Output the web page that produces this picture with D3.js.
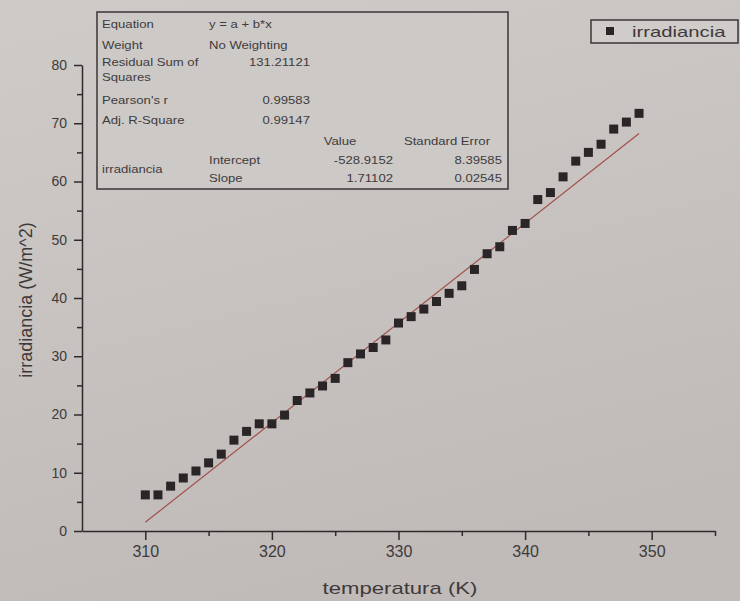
<!DOCTYPE html>
<html lang="en">
<head>
<meta charset="UTF-8">
<title>irradiancia vs temperatura</title>
<script src="https://d3js.org/d3.v7.min.js"></script>
<style>
    body { margin: 0; background: #c8c4c2; }
    svg { display: block; font-family: "Liberation Sans", Arial, sans-serif; }
    .axis path, .axis line { stroke: #2f2b2b; stroke-width: 1.5; }
    .axis text { fill: #3e3a3a; }
    .tbl text { fill: #403c3c; font-size: 10.5px; }
</style>
</head>
<body>
<svg width="740" height="601"></svg>

<script>
    // data
    const temperatura = [310, 311, 312, 313, 314, 315, 316, 317, 318, 319,
                         320, 321, 322, 323, 324, 325, 326, 327, 328, 329,
                         330, 331, 332, 333, 334, 335, 336, 337, 338, 339,
                         340, 341, 342, 343, 344, 345, 346, 347, 348, 349];
    const irradiancia = [6.2, 6.2, 7.7, 9.1, 10.3, 11.7, 13.2, 15.6, 17.1, 18.4,
                         18.4, 19.9, 22.4, 23.7, 24.9, 26.2, 28.9, 30.4, 31.5, 32.8,
                         35.7, 36.8, 38.1, 39.4, 40.8, 42.1, 44.9, 47.6, 48.8, 51.6,
                         52.8, 56.9, 58.1, 60.8, 63.5, 65.0, 66.4, 69.0, 70.2, 71.7];

    const xTicks = [310, 320, 330, 340, 350];
    const xMinor = [315, 325, 335, 345, 355];
    const yTicks = [0, 10, 20, 30, 40, 50, 60, 70, 80];
    const yMinor = [5, 15, 25, 35, 45, 55, 65, 75];

    // fit results table
    const statLabels = ["Equation", "Weight", "Residual Sum of|Squares", "Pearson's r", "Adj. R-Square"];
    const statValues = ["y = a + b*x", "No Weighting", "131.21121", "0.99583", "0.99147"];
    const paramNames = ["Intercept", "Slope"];
    const paramValues = ["-528.9152", "1.71102"];
    const paramErrors = ["8.39585", "0.02545"];
    const fitIntercept = -528.9152;
    const fitSlope = 1.71102;

    const svg = d3.select("svg");

    const defs = svg.append("defs");
    const grad = defs.append("linearGradient").attr("id", "paper")
        .attr("x1", 0).attr("y1", 0).attr("x2", 0.3).attr("y2", 1);
    grad.append("stop").attr("offset", "0%").attr("stop-color", "#cfcbc9");
    grad.append("stop").attr("offset", "100%").attr("stop-color", "#c0bbb9");
    svg.append("rect").attr("width", 740).attr("height", 601).attr("fill", "url(#paper)");

    const x = d3.scaleLinear().domain([305, 355]).range([82, 715]);
    const y = d3.scaleLinear().domain([0, 80]).range([531, 65]);

    function stretch(sel, k) {
        sel.each(function () {
            const w = this.getComputedTextLength();
            d3.select(this).attr("textLength", w * k).attr("lengthAdjust", "spacingAndGlyphs");
        });
    }

    // axes
    const gx = svg.append("g").attr("class", "axis")
        .attr("transform", "translate(0," + y(0) + ")")
        .call(d3.axisBottom(x).tickValues(xTicks).tickSize(9).tickSizeOuter(0).tickPadding(6).tickFormat(d3.format("d")));
    gx.selectAll("text").style("font-size", "16px");
    svg.append("g").attr("class", "axis")
        .attr("transform", "translate(0," + y(0) + ")")
        .call(d3.axisBottom(x).tickValues(xMinor).tickSize(5).tickFormat(""))
        .select(".domain").remove();

    const gy = svg.append("g").attr("class", "axis")
        .attr("transform", "translate(" + x(305) + ",0)")
        .call(d3.axisLeft(y).tickValues(yTicks).tickSize(8).tickSizeOuter(0).tickPadding(7));
    gy.selectAll("text").style("font-size", "14px");
    svg.append("g").attr("class", "axis")
        .attr("transform", "translate(" + x(305) + ",0)")
        .call(d3.axisLeft(y).tickValues(yMinor).tickSize(5).tickFormat(""))
        .select(".domain").remove();

    // axis titles
    svg.append("text")
        .attr("x", 400).attr("y", 594)
        .attr("text-anchor", "middle")
        .style("font-size", "17px").attr("fill", "#3e3a3a")
        .text("temperatura (K)")
        .call(stretch, 1.3);

    svg.append("text")
        .attr("transform", "translate(32,300) rotate(-90)")
        .attr("text-anchor", "middle")
        .style("font-size", "18px").attr("fill", "#3e3a3a")
        .text("irradiancia (W/m^2)");

    // fit line
    const x0 = temperatura[0], x1 = temperatura[temperatura.length - 1];
    svg.append("line")
        .attr("x1", x(x0)).attr("y1", y(fitIntercept + fitSlope * x0))
        .attr("x2", x(x1)).attr("y2", y(fitIntercept + fitSlope * x1))
        .attr("stroke", "#a0504c").attr("stroke-width", 1.2);

    // points
    svg.append("g").selectAll("path")
        .data(temperatura)
        .enter()
        .append("path")
        .attr("d", d3.symbol(d3.symbolSquare, 81))
        .attr("transform", (d, i) => "translate(" + x(d) + "," + y(irradiancia[i]) + ")")
        .attr("fill", "#2a2526");

    // results table
    const tbl = svg.append("g").attr("class", "tbl");
    tbl.append("rect")
        .attr("x", 97).attr("y", 12).attr("width", 411).attr("height", 177)
        .attr("fill", "#cdc9c7").attr("stroke", "#3a3636").attr("stroke-width", 1.5);

    const rowY = [28, 49, 66, 104, 124];
    statLabels.forEach((s, i) => {
        s.split("|").forEach((line, j) => {
            tbl.append("text").attr("x", 102).attr("y", rowY[i] + j * 15).text(line).call(stretch, 1.25);
        });
        const t = tbl.append("text").attr("y", rowY[i]).text(statValues[i]);
        if (i < 2) t.attr("x", 209);
        else t.attr("x", 310).attr("text-anchor", "end");
        t.call(stretch, 1.25);
    });

    tbl.append("text").attr("x", 340).attr("y", 145).attr("text-anchor", "middle").text("Value").call(stretch, 1.25);
    tbl.append("text").attr("x", 447).attr("y", 145).attr("text-anchor", "middle").text("Standard Error").call(stretch, 1.25);
    tbl.append("text").attr("x", 102).attr("y", 173).text("irradiancia").call(stretch, 1.25);

    paramNames.forEach((p, i) => {
        const yy = 164 + i * 18;
        tbl.append("text").attr("x", 209).attr("y", yy).text(p).call(stretch, 1.25);
        tbl.append("text").attr("x", 393).attr("y", yy).attr("text-anchor", "end").text(paramValues[i]).call(stretch, 1.25);
        tbl.append("text").attr("x", 502).attr("y", yy).attr("text-anchor", "end").text(paramErrors[i]).call(stretch, 1.25);
    });

    // legend
    const lg = svg.append("g");
    lg.append("rect")
        .attr("x", 591).attr("y", 20).attr("width", 147).attr("height", 23)
        .attr("fill", "#d0ccca").attr("stroke", "#3a3636").attr("stroke-width", 1.5);
    lg.append("path")
        .attr("d", d3.symbol(d3.symbolSquare, 64))
        .attr("transform", "translate(610,31)")
        .attr("fill", "#2a2526");
    lg.append("text")
        .attr("x", 632).attr("y", 37)
        .style("font-size", "15px").attr("fill", "#3e3a3a")
        .text("irradiancia")
        .call(stretch, 1.35);
</script>
</body>
</html>
